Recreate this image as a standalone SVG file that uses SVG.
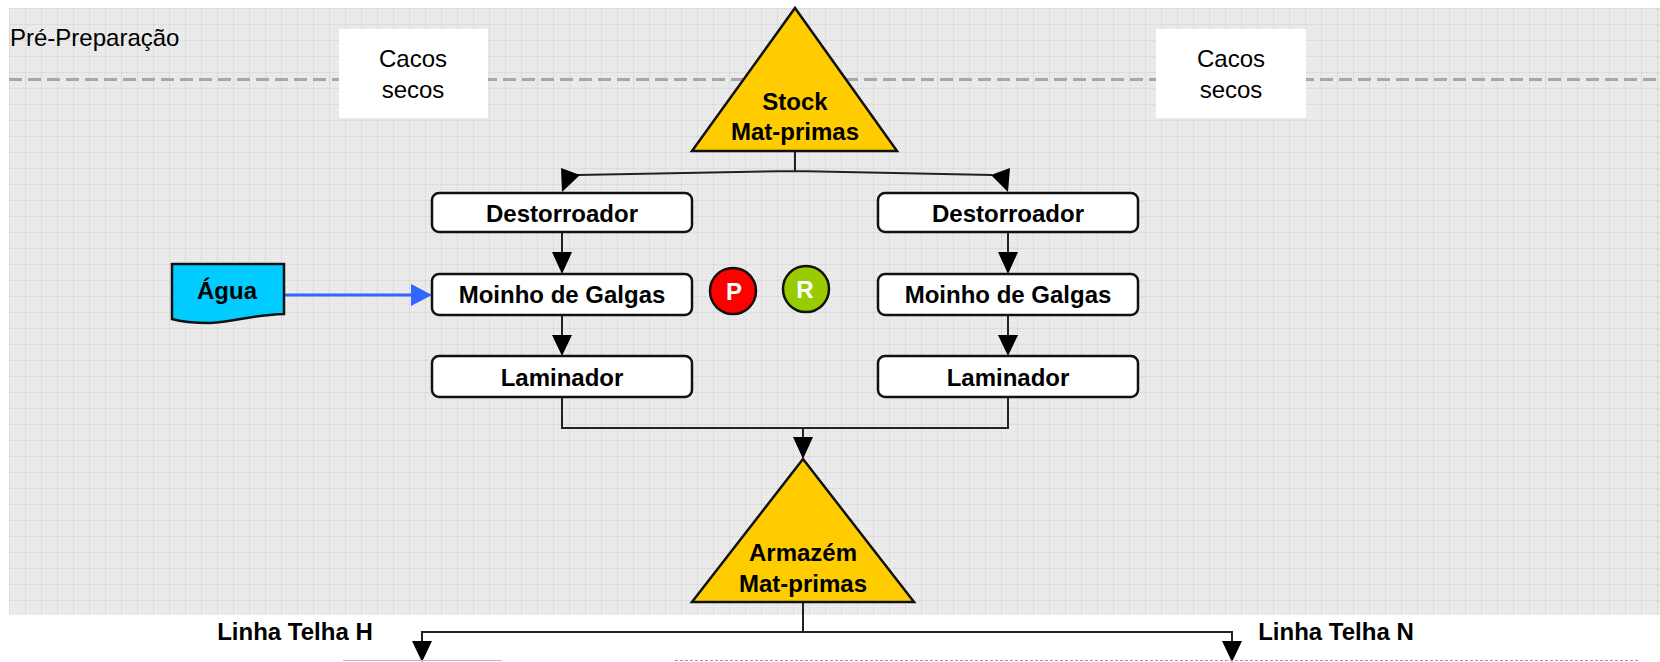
<svg xmlns="http://www.w3.org/2000/svg" width="1660" height="662" viewBox="0 0 1660 662">
<style>
text{font-family:"Liberation Sans",Arial,sans-serif;fill:#000;text-anchor:middle}
.b{font-weight:bold;font-size:24px}
.r{font-size:24px}
.box{fill:#fff;stroke:#111;stroke-width:2.5}
.tri{fill:#FFCC00;stroke:#111;stroke-width:2.5;stroke-linejoin:miter}
.c{fill:none;stroke:#222;stroke-width:2}
.h{fill:#000}
</style>
<defs>
<pattern id="tex" width="16" height="16" patternUnits="userSpaceOnUse" x="9" y="8">
<rect width="16" height="16" fill="#e6e6e6"/>
<path d="M0 0h1v1H0zM2 0h1v1H2zM4 0h1v1H4zM6 0h1v1H6zM8 0h1v1H8zM10 0h1v1h-1zM12 0h1v1h-1zM14 0h1v1h-1zM1 2h1v1H1zM3 2h1v1H3zM5 2h1v1H5zM7 2h1v1H7zM9 2h1v1H9zM11 2h1v1h-1zM13 2h1v1h-1zM15 2h1v1h-1zM0 4h1v1H0zM2 4h1v1H2zM4 4h1v1H4zM6 4h1v1H6zM8 4h1v1H8zM10 4h1v1h-1zM12 4h1v1h-1zM14 4h1v1h-1zM1 6h1v1H1zM3 6h1v1H3zM5 6h1v1H5zM7 6h1v1H7zM9 6h1v1H9zM11 6h1v1h-1zM13 6h1v1h-1zM15 6h1v1h-1zM0 8h1v1H0zM2 8h1v1H2zM4 8h1v1H4zM6 8h1v1H6zM8 8h1v1H8zM10 8h1v1h-1zM12 8h1v1h-1zM14 8h1v1h-1zM1 10h1v1H1zM3 10h1v1H3zM5 10h1v1H5zM7 10h1v1H7zM9 10h1v1H9zM11 10h1v1h-1zM13 10h1v1h-1zM15 10h1v1h-1zM0 12h1v1H0zM2 12h1v1H2zM4 12h1v1H4zM6 12h1v1H6zM8 12h1v1H8zM10 12h1v1h-1zM12 12h1v1h-1zM14 12h1v1h-1zM1 14h1v1H1zM3 14h1v1H3zM5 14h1v1H5zM7 14h1v1H7zM9 14h1v1H9zM11 14h1v1h-1zM13 14h1v1h-1zM15 14h1v1h-1z" fill="#f6f6f6"/>
<path d="M0 0V16M0 0H16" stroke="#cfcfcf" stroke-width="1" fill="none"/>
</pattern>
</defs>
<rect width="1660" height="662" fill="#fff"/>
<rect id="background" x="9" y="8" width="1651" height="607" fill="url(#tex)"/>
<line id="divider" x1="9" y1="79.500" x2="1660" y2="79.500" stroke="#a8a8a8" stroke-width="3" stroke-dasharray="13 6"/>
<text id="stage-label" class="r" style="text-anchor:start" x="10" y="46" font-size="22">Pré-Preparação</text>
<g id="cacos-left"><rect x="339" y="29" width="149" height="89" fill="#fff"/><text class="r" x="413" y="67">Cacos</text><text class="r" x="413" y="98">secos</text></g>
<g id="cacos-right"><rect x="1156" y="29" width="150" height="89" fill="#fff"/><text class="r" x="1231" y="67">Cacos</text><text class="r" x="1231" y="98">secos</text></g>
<g id="connectors">
<path class="c" d="M795 151V171M795 171L578 175M795 171L992 175"/>
<path class="h" d="M561 168L580 175L562 192Z"/>
<path class="h" d="M1010 168L991 175L1008 192Z"/>
<path class="c" d="M562 232V256M562 315V338M1008 232V256M1008 315V338"/>
<path class="h" d="M552 252H572L562 274ZM552 335H572L562 356ZM998 252H1018L1008 274ZM998 335H1018L1008 356Z"/>
<path class="c" d="M562 397V428H1008V397M803 428V440"/>
<path class="h" d="M793 437H813L803 459Z"/>
<path class="c" d="M803 602V632M422 645V632H1232V645" stroke-width="2.500"/>
<path class="h" d="M412 641H432L422 662ZM1222 641H1242L1232 662Z"/>
<path d="M284 295H414" fill="none" stroke="#3366FF" stroke-width="3"/>
<path d="M411 284L432 295L411 306Z" fill="#3366FF"/>
</g>
<g id="stock"><path class="tri" d="M795 8L897 151H692Z"/><text class="b" x="795" y="110">Stock</text><text class="b" x="795" y="140">Mat-primas</text></g>
<g id="destorroador-l"><rect class="box" x="432" y="193" width="260" height="39" rx="7"/><text class="b" x="562" y="222">Destorroador</text></g>
<g id="moinho-l"><rect class="box" x="432" y="274" width="260" height="41" rx="7"/><text class="b" x="562" y="303">Moinho de Galgas</text></g>
<g id="laminador-l"><rect class="box" x="432" y="356" width="260" height="41" rx="7"/><text class="b" x="562" y="386">Laminador</text></g>
<g id="destorroador-r"><rect class="box" x="878" y="193" width="260" height="39" rx="7"/><text class="b" x="1008" y="222">Destorroador</text></g>
<g id="moinho-r"><rect class="box" x="878" y="274" width="260" height="41" rx="7"/><text class="b" x="1008" y="303">Moinho de Galgas</text></g>
<g id="laminador-r"><rect class="box" x="878" y="356" width="260" height="41" rx="7"/><text class="b" x="1008" y="386">Laminador</text></g>
<g id="agua"><path d="M172 264H284V314C250 315 235 322 210 323C195 323 182 322 172 319Z" fill="#00CCFF" stroke="#111" stroke-width="2.500"/><text class="b" x="227" y="299">Água</text></g>
<g id="p"><circle cx="733" cy="291" r="23" fill="#FF0000" stroke="#111" stroke-width="2.500"/><text x="734" y="300" font-size="24" font-weight="bold" style="fill:#fff">P</text></g>
<g id="r"><circle cx="806" cy="289" r="23" fill="#99CC00" stroke="#111" stroke-width="2.500"/><text x="805" y="298" font-size="24" font-weight="bold" style="fill:#fff">R</text></g>
<g id="armazem"><path class="tri" d="M803 459L914 602H692Z"/><text class="b" x="803" y="561">Armazém</text><text class="b" x="803" y="592">Mat-primas</text></g>
<text class="b" x="295" y="640">Linha Telha H</text>
<text class="b" x="1336" y="640">Linha Telha N</text>
<line id="box-top-left" x1="343" y1="660.500" x2="502" y2="660.500" stroke="#bbb" stroke-width="1"/>
<line id="box-top-right" x1="675" y1="660.500" x2="1640" y2="660.500" stroke="#999" stroke-width="1" stroke-dasharray="3 2"/>
</svg>
